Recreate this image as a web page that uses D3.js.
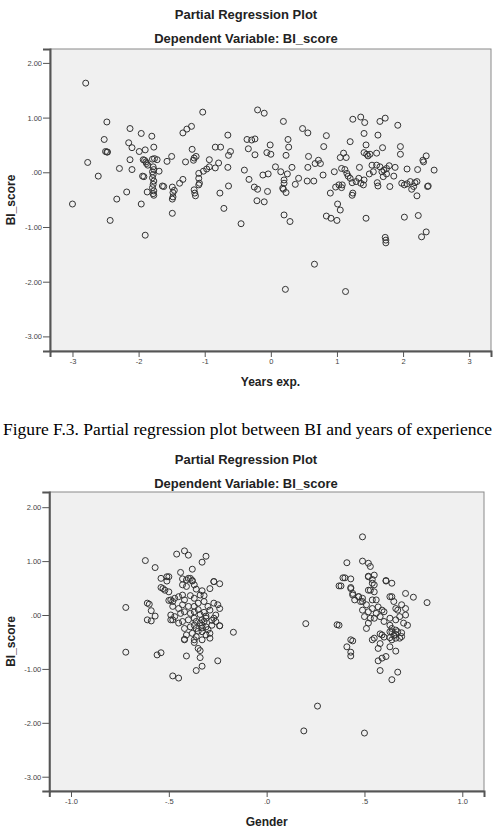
<!DOCTYPE html>
<html>
<head>
<meta charset="utf-8">
<script src="https://cdn.jsdelivr.net/npm/d3@7"></script>
<style>
  body { margin: 0; background: #fff; }
  svg { display: block; }
</style>
</head>
<body>
<svg id="page" width="495" height="828"></svg>
<script>
// Years exp. (x) vs BI_score (y) residuals
const yearsPoints = [
  [-3.00,-0.58],[-2.80,1.63],[-2.77,0.18],[-2.61,-0.07],[-2.48,0.92],[-2.52,0.60],[-2.50,0.38],[-2.48,0.37],
  [-2.47,0.37],[-2.43,-0.88],[-2.33,-0.49],[-2.29,0.07],[-2.18,-0.36],[-2.15,0.54],[-2.13,0.80],[-2.13,0.23],
  [-2.10,0.45],[-2.10,0.05],[-1.99,0.38],[-1.96,0.71],[-1.96,-0.58],[-1.90,0.41],[-1.93,0.23],[-1.91,0.22],
  [-1.89,0.19],[-1.88,0.16],[-1.86,0.13],[-1.94,-0.07],[-1.92,-0.08],[-1.87,-0.36],[-1.80,0.66],[-1.77,0.46],
  [-1.79,0.24],[-1.76,0.25],[-1.72,0.23],[-1.78,0.10],[-1.77,0.05],[-1.79,0.01],[-1.78,-0.04],[-1.79,-0.10],
  [-1.77,-0.16],[-1.78,-0.22],[-1.79,-0.28],[-1.77,-0.34],[-1.78,-0.39],[-1.77,-0.42],[-1.69,0.02],[-1.64,-0.25],
  [-1.62,-0.26],[-1.57,0.20],[-1.50,0.29],[-1.49,-0.27],[-1.48,-0.37],[-1.49,-0.49],[-1.48,-0.45],[-1.46,-0.33],
  [-1.49,-0.75],[-1.38,-0.20],[-1.33,-0.13],[-1.29,0.19],[-1.33,0.72],[-1.27,0.79],[-1.20,0.84],[-1.19,0.42],
  [-1.17,0.22],[-1.16,0.26],[-1.13,0.29],[-1.16,-0.32],[-1.15,-0.38],[-1.14,-0.43],[-1.09,-0.02],[-1.09,-0.11],
  [-1.08,-0.20],[-1.09,-0.23],[-1.03,1.10],[-1.02,0.02],[-0.97,0.06],[-0.93,0.23],[-0.93,0.10],[-0.84,0.46],
  [-0.76,0.46],[-0.84,0.08],[-0.79,0.17],[-0.77,-0.38],[-0.71,-0.66],[-0.65,0.68],[-0.64,0.31],[-0.61,0.38],
  [-0.65,0.09],[-0.64,-0.25],[-0.45,-0.94],[-0.40,0.04],[-0.36,0.60],[-0.34,0.43],[-0.33,-0.13],[-1.90,-1.15],
  [-0.29,0.59],[-0.24,0.61],[-0.24,0.32],[-0.25,-0.27],[-0.20,-0.31],[-0.21,-0.52],[-0.10,-0.54],[-0.20,1.14],
  [-0.10,1.08],[-0.12,-0.05],[-0.04,-0.03],[-0.06,0.36],[0.00,0.33],[-0.01,0.50],[-0.05,-0.35],[0.07,0.10],
  [0.15,0.01],[0.19,0.93],[0.23,0.31],[0.26,0.60],[0.27,0.46],[0.20,-0.14],[0.20,-0.20],[0.18,-0.29],
  [0.19,-0.31],[0.23,-0.37],[0.25,-0.03],[0.32,0.09],[0.20,-0.78],[0.29,-0.90],[0.37,-0.22],[0.42,-0.11],
  [0.48,0.80],[0.56,0.72],[0.56,0.09],[0.57,0.29],[0.55,-0.16],[0.65,-0.16],[0.67,0.16],[0.72,0.22],
  [0.75,0.16],[0.80,0.47],[0.84,0.67],[0.79,-0.05],[0.90,-0.38],[0.84,-0.80],[0.91,-0.84],[1.00,-0.88],
  [1.01,-0.58],[1.05,-0.69],[0.96,0.01],[0.98,-0.27],[1.03,-0.23],[1.08,-0.23],[1.07,-0.28],[1.05,0.27],
  [1.10,0.35],[1.14,0.27],[1.07,0.07],[1.12,0.05],[1.15,-0.02],[1.17,-0.07],[1.20,-0.11],[1.23,-0.19],
  [1.24,-0.38],[1.23,-0.42],[1.20,0.56],[1.24,0.97],[1.36,1.01],[1.42,0.91],[1.34,0.09],[1.29,-0.17],
  [1.33,-0.11],[1.36,-0.20],[1.40,-0.23],[1.41,-0.14],[1.41,0.71],[1.44,0.50],[1.41,0.36],[1.45,0.33],
  [1.47,0.30],[1.50,0.33],[1.49,-0.03],[1.53,0.13],[1.55,0.01],[1.60,0.35],[1.62,0.68],[1.65,0.93],
  [1.73,0.99],[1.61,-0.19],[1.62,-0.25],[1.60,0.13],[1.65,0.10],[1.68,0.01],[1.71,0.04],[1.75,0.07],
  [1.79,0.12],[1.75,-0.03],[1.70,-0.08],[1.69,0.45],[1.80,-0.26],[1.86,-0.07],[1.88,0.09],[1.92,0.86],
  [1.96,0.47],[1.96,0.33],[1.98,-0.20],[2.02,-0.23],[2.06,-0.21],[2.11,-0.17],[2.16,-0.26],[2.13,-0.31],
  [2.18,-0.19],[2.21,-0.17],[2.06,0.06],[2.21,-0.43],[2.22,0.05],[2.30,0.22],[2.35,0.30],[2.31,0.19],
  [2.47,0.04],[2.37,-0.26],[2.38,-0.25],[2.02,-0.82],[2.23,-0.79],[1.44,-0.84],[1.73,-1.19],[1.74,-1.24],
  [1.74,-1.29],[2.28,-1.18],[2.35,-1.09],[0.66,-1.68],[0.22,-2.14],[1.13,-2.18]
];

// Gender (x) vs BI_score (y) residuals
const genderPoints = [
  [-0.72,0.14],[-0.62,1.01],[-0.57,0.88],[-0.54,0.68],[-0.50,0.71],[-0.54,0.51],[-0.52,0.46],[-0.50,0.43],
  [-0.61,0.22],[-0.60,0.20],[-0.59,0.08],[-0.61,-0.09],[-0.59,-0.11],[-0.57,-0.02],[-0.50,0.27],[-0.48,0.25],
  [-0.49,-0.09],[-0.46,1.13],[-0.42,1.19],[-0.40,1.11],[-0.44,0.79],[-0.38,0.85],[-0.33,0.98],[-0.31,1.09],
  [-0.41,0.65],[-0.39,0.68],[-0.38,0.64],[-0.27,0.62],[-0.24,0.58],[-0.17,-0.32],[-0.24,-0.20],
  [-0.72,-0.69],[-0.56,-0.74],[-0.54,-0.70],[-0.42,-0.45],[-0.41,-0.76],[-0.37,-0.51],[-0.35,-0.62],[-0.34,-0.66],
  [-0.34,-0.79],[-0.33,-0.95],[-0.36,-1.03],[-0.25,-0.85],[-0.48,-1.13],[-0.45,-1.17],
  [-0.51,0.71],[-0.51,0.63],[-0.53,0.49],[-0.43,0.67],[-0.40,0.68],[-0.38,0.63],[-0.43,0.56],[-0.41,0.53],
  [-0.37,0.56],[-0.36,0.48],[-0.33,0.45],[-0.29,0.49],[-0.27,0.62],[-0.49,0.28],[-0.47,0.31],[-0.45,0.34],
  [-0.43,0.37],[-0.42,0.28],[-0.39,0.36],[-0.37,0.31],[-0.34,0.37],[-0.32,0.36],[-0.27,0.22],[-0.25,0.19],
  [-0.24,0.12],[-0.48,0.16],[-0.45,0.12],[-0.43,0.19],[-0.40,0.16],[-0.37,0.16],[-0.35,0.22],[-0.32,0.25],
  [-0.30,0.16],[-0.49,0.00],[-0.47,-0.03],[-0.44,0.03],[-0.42,0.06],[-0.39,0.03],[-0.37,0.06],[-0.34,0.01],
  [-0.32,0.05],[-0.29,0.09],[-0.26,0.00],[-0.48,-0.09],[-0.45,-0.15],[-0.43,-0.12],[-0.40,-0.09],[-0.37,-0.06],
  [-0.36,-0.12],[-0.33,-0.09],[-0.31,-0.06],[-0.27,-0.06],[-0.26,-0.12],[-0.42,-0.25],[-0.39,-0.22],[-0.37,-0.19],
  [-0.36,-0.25],[-0.33,-0.19],[-0.31,-0.22],[-0.28,-0.19],[-0.24,-0.20],[-0.41,-0.37],[-0.38,-0.34],[-0.36,-0.40],
  [-0.33,-0.31],[-0.31,-0.37],[-0.29,-0.34],[-0.42,-0.46],[-0.37,-0.46],[-0.33,-0.46],[-0.29,-0.43],
  [-0.34,-0.15],[-0.32,-0.12],[-0.30,-0.27],[-0.35,-0.30],[-0.28,-0.10],[-0.33,-0.24],[-0.31,-0.02],[-0.35,0.10],
  [0.20,-0.16],[0.36,-0.18],[0.49,1.45],[0.41,0.97],[0.49,1.00],[0.52,0.96],[0.53,0.90],[0.40,0.69],
  [0.43,0.67],[0.37,0.54],[0.43,0.51],[0.52,0.72],[0.55,0.74],[0.54,0.66],[0.55,0.56],[0.53,0.46],
  [0.55,0.43],[0.61,0.64],[0.64,0.59],[0.44,0.37],[0.47,0.34],[0.45,0.28],[0.49,0.31],[0.48,0.25],
  [0.71,0.40],[0.75,0.33],[0.82,0.23],[0.63,0.34],[0.65,0.25],
  [0.41,-0.59],[0.44,-0.48],[0.43,-0.69],[0.43,-0.76],[0.54,-0.46],[0.58,-0.35],[0.60,-0.41],[0.57,-0.62],
  [0.63,-0.59],[0.64,-0.46],[0.66,-0.67],[0.68,-0.43],[0.69,-0.33],[0.64,-0.31],[0.57,-0.85],[0.59,-0.80],
  [0.61,-0.77],[0.58,-1.03],[0.67,-1.06],[0.64,-1.20],[0.26,-1.69],[0.19,-2.15],[0.50,-2.19],
  [0.39,0.69],[0.38,0.54],[0.43,0.49],[0.44,0.40],[0.47,0.34],[0.52,0.71],[0.54,0.59],[0.52,0.46],
  [0.61,0.63],[0.64,0.34],[0.49,0.25],[0.51,0.19],[0.54,0.28],[0.56,0.28],[0.57,0.15],[0.49,0.09],
  [0.52,0.06],[0.54,0.12],[0.56,0.03],[0.59,0.09],[0.60,0.06],[0.50,-0.03],[0.53,-0.06],[0.52,-0.15],
  [0.51,-0.25],[0.55,-0.06],[0.58,-0.03],[0.60,-0.12],[0.66,0.12],[0.67,0.09],[0.69,0.19],[0.71,0.12],
  [0.71,0.00],[0.68,-0.03],[0.66,-0.09],[0.63,-0.06],[0.70,-0.15],[0.72,-0.19],[0.63,-0.19],[0.64,-0.25],
  [0.66,-0.28],[0.67,-0.31],[0.63,-0.31],[0.69,-0.40],[0.66,-0.43],[0.59,-0.37],[0.55,-0.43],[0.43,-0.46],
  [0.58,-0.53],[0.37,-0.19],[0.65,-0.38],[0.63,-0.42],[0.66,-0.36]
];

const scoreTicks = [2, 1, 0, -1, -2, -3];
const yearsTicks = [-3, -2, -1, 0, 1, 2, 3];
const genderTicks = [-1, -0.5, 0, 0.5, 1];

// SPSS style labels: hyphen minus, no leading zero
function spssFormat(digits) {
  return v => {
    let s = Math.abs(v).toFixed(digits);
    if (digits > 0) s = s.replace(/^0\./, '.');
    return (v < 0 ? '-' : '') + s;
  };
}

function partialPlot() {
  let top = 0;
  let frame = {left: 50, right: 491, top: 49, bottom: 351};
  let xDomain = [-1, 1];
  let yDomain = [-1, 1];
  let xTicks = [];
  let xFormat = spssFormat(0);
  let xLabel = '';

  function chart(svg) {
    const g = svg.append('g').attr('transform', `translate(0, ${top})`);

    const x = d3.scaleLinear().domain(xDomain).range([frame.left, frame.right]);
    const y = d3.scaleLinear().domain(yDomain).range([frame.bottom, frame.top]);

    // titles
    g.append('text')
        .attr('x', 246)
        .attr('y', 18.5)
        .attr('text-anchor', 'middle')
        .attr('font-family', 'Liberation Sans, Arial, sans-serif')
        .attr('font-weight', 'bold')
        .attr('font-size', 13)
        .attr('fill', '#222')
        .text('Partial Regression Plot');

    g.append('text')
        .attr('x', 246)
        .attr('y', 42.5)
        .attr('text-anchor', 'middle')
        .attr('font-family', 'Liberation Sans, Arial, sans-serif')
        .attr('font-weight', 'bold')
        .attr('font-size', 13)
        .attr('fill', '#222')
        .text('Dependent Variable: BI_score');

    // plot frame
    g.append('rect')
        .attr('x', frame.left)
        .attr('y', frame.top)
        .attr('width', frame.right - frame.left)
        .attr('height', frame.bottom - frame.top)
        .attr('fill', '#f0f0f0')
        .attr('stroke', '#8a8a8a')
        .attr('stroke-width', 1);

    const xAxis = d3.axisBottom(x)
        .tickValues(xTicks)
        .tickFormat(xFormat)
        .tickSize(6)
        .tickPadding(2);

    const yAxis = d3.axisLeft(y)
        .tickValues(scoreTicks)
        .tickFormat(spssFormat(2))
        .tickSize(7)
        .tickPadding(1);

    g.append('g')
        .attr('class', 'x axis')
        .attr('transform', `translate(0, ${frame.bottom})`)
        .call(xAxis)
        .call(a => a.select('.domain').attr('stroke', '#555').attr('stroke-width', 2));

    g.append('g')
        .attr('class', 'y axis')
        .attr('transform', `translate(${frame.left}, 0)`)
        .call(yAxis)
        .call(a => a.select('.domain').attr('stroke', '#555').attr('stroke-width', 2));

    g.selectAll('.axis .tick line').attr('stroke', '#555');
    g.selectAll('.axis text')
        .attr('font-family', 'Liberation Sans, Arial, sans-serif')
        .attr('font-size', 7.5)
        .attr('fill', '#444');

    // axis titles
    g.append('text')
        .attr('x', (frame.left + frame.right) / 2)
        .attr('y', frame.bottom + 35)
        .attr('text-anchor', 'middle')
        .attr('font-family', 'Liberation Sans, Arial, sans-serif')
        .attr('font-weight', 'bold')
        .attr('font-size', 12)
        .attr('fill', '#222')
        .text(xLabel);

    const cy = (frame.top + frame.bottom) / 2;
    g.append('text')
        .attr('transform', `translate(14.5, ${cy}) rotate(-90)`)
        .attr('text-anchor', 'middle')
        .attr('font-family', 'Liberation Sans, Arial, sans-serif')
        .attr('font-weight', 'bold')
        .attr('font-size', 12)
        .attr('fill', '#222')
        .text('BI_score');

    // points
    g.append('g')
        .selectAll('circle')
        .data(chart.points)
        .join('circle')
          .attr('cx', d => x(d[0]))
          .attr('cy', d => y(d[1]))
          .attr('r', 3)
          .attr('fill', 'none')
          .attr('stroke', '#333')
          .attr('stroke-width', 1);
  }

  chart.points = [];
  chart.top = function(v) { top = v; return chart; };
  chart.frame = function(v) { frame = v; return chart; };
  chart.xDomain = function(v) { xDomain = v; return chart; };
  chart.yDomain = function(v) { yDomain = v; return chart; };
  chart.xTicks = function(v) { xTicks = v; return chart; };
  chart.xFormat = function(v) { xFormat = v; return chart; };
  chart.xLabel = function(v) { xLabel = v; return chart; };
  chart.data = function(v) { chart.points = v; return chart; };

  return chart;
}

const svg = d3.select('#page');

const yearsChart = partialPlot()
    .frame({left: 50, right: 491, top: 49, bottom: 351})
    .xDomain([-3.34, 3.33])
    .yDomain([-3.267, 2.254])
    .xTicks(yearsTicks)
    .xFormat(spssFormat(0))
    .xLabel('Years exp.')
    .data(yearsPoints);
yearsChart(svg);

// caption: the original runs a little past the left edge, shrink it to fit
svg.append('text')
    .attr('x', 3)
    .attr('y', 435)
    .attr('textLength', 489)
    .attr('lengthAdjust', 'spacingAndGlyphs')
    .attr('font-family', 'Liberation Serif, Times New Roman, serif')
    .attr('font-size', 17.3)
    .attr('fill', '#000')
    .text('Figure F.3. Partial regression plot between BI and years of experience');

const genderChart = partialPlot()
    .top(445)
    .frame({left: 49.3, right: 484, top: 47, bottom: 346})
    .xDomain([-1.111, 1.111])
    .yDomain([-3.265, 2.282])
    .xTicks(genderTicks)
    .xFormat(spssFormat(1))
    .xLabel('Gender')
    .data(genderPoints);
genderChart(svg);
</script>
</body>
</html>
